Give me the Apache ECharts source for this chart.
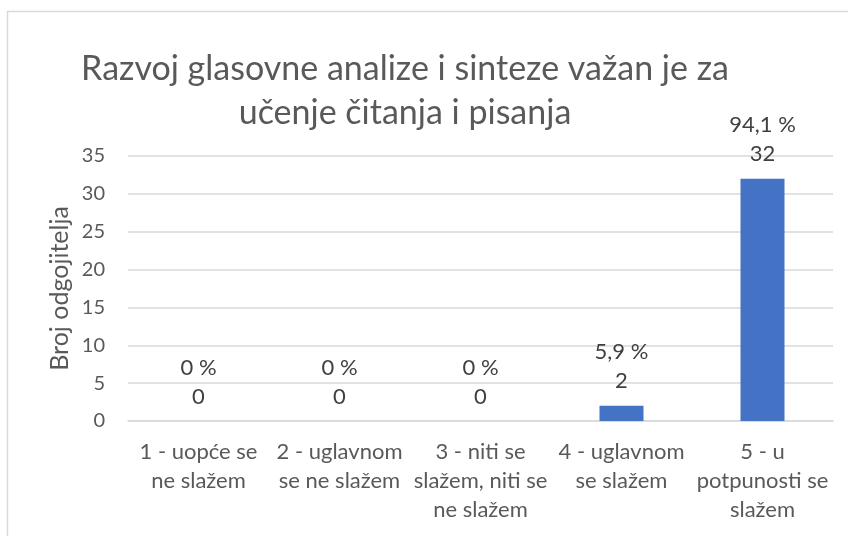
<!DOCTYPE html>
<html>
<head>
<meta charset="utf-8">
<script src="https://cdn.jsdelivr.net/npm/echarts@6/dist/echarts.min.js"></script>
<style>
html, body { margin: 0; padding: 0; background: #fff; }
#chart { width: 848px; height: 536px; }
</style>
</head>
<body>
<div id="chart"></div>
<script>
// podaci
var categories = [
    '1 - uopće se\nne slažem',
    '2 - uglavnom\nse ne slažem',
    '3 - niti se\nslažem, niti se\nne slažem',
    '4 - uglavnom\nse slažem',
    '5 - u\npotpunosti se\nslažem'
];
var counts = [0, 0, 0, 2, 32];
var percents = ['0 %', '0 %', '0 %', '5,9 %', '94,1 %'];
var yTicks = [0, 5, 10, 15, 20, 25, 30, 35];

var fontName = 'Lato';
var myChart = echarts.init(document.getElementById('chart'));

var option = {
    animation: false,
    backgroundColor: '#fff',
    title: {
        text: 'Razvoj glasovne analize i sinteze važan je za\nučenje čitanja i pisanja',
        left: 400,
        top: 42,
        textAlign: 'center',
        textStyle: {
            fontFamily: fontName,
            fontSize: 34,
            fontWeight: 'normal',
            color: '#595959',
            lineHeight: 44
        }
    },
    graphic: [{
        type: 'rect',
        shape: { x: 7.5, y: 11.5, width: 900, height: 600 },
        style: { fill: 'none', stroke: '#d9d9d9', lineWidth: 1.5 },
        silent: true
    }],
    grid: {
        left: 128,
        right: 15,
        top: 156,
        bottom: 115,
        containLabel: false
    },
    xAxis: {
        type: 'category',
        data: categories,
        axisLine: { lineStyle: { color: '#d9d9d9', width: 1.5 } },
        axisTick: { show: false },
        axisLabel: {
            interval: 0,
            margin: 16,
            fontFamily: fontName,
            fontSize: 22,
            color: '#595959',
            lineHeight: 29
        }
    },
    yAxis: {
        type: 'value',
        min: yTicks[0],
        max: yTicks[yTicks.length - 1],
        interval: 5,
        name: 'Broj odgojitelja',
        nameLocation: 'middle',
        nameGap: 56,
        nameMoveOverlap: false,
        nameTextStyle: {
            fontFamily: fontName,
            fontSize: 25,
            color: '#595959'
        },
        axisLine: { show: false },
        axisTick: { show: false },
        axisLabel: {
            margin: 23,
            fontFamily: fontName,
            fontSize: 20,
            color: '#595959'
        },
        splitLine: { lineStyle: { color: '#d9d9d9', width: 1.5 } }
    },
    series: [{
        type: 'bar',
        data: counts,
        barWidth: 44,
        itemStyle: { color: '#4472c4' },
        label: {
            show: true,
            position: 'top',
            distance: 10,
            fontFamily: fontName,
            fontSize: 22,
            color: '#404040',
            lineHeight: 29,
            formatter: function (p) {
                return percents[p.dataIndex] + '\n' + p.value;
            }
        }
    }]
};
myChart.setOption(option);
</script>
</body>
</html>
